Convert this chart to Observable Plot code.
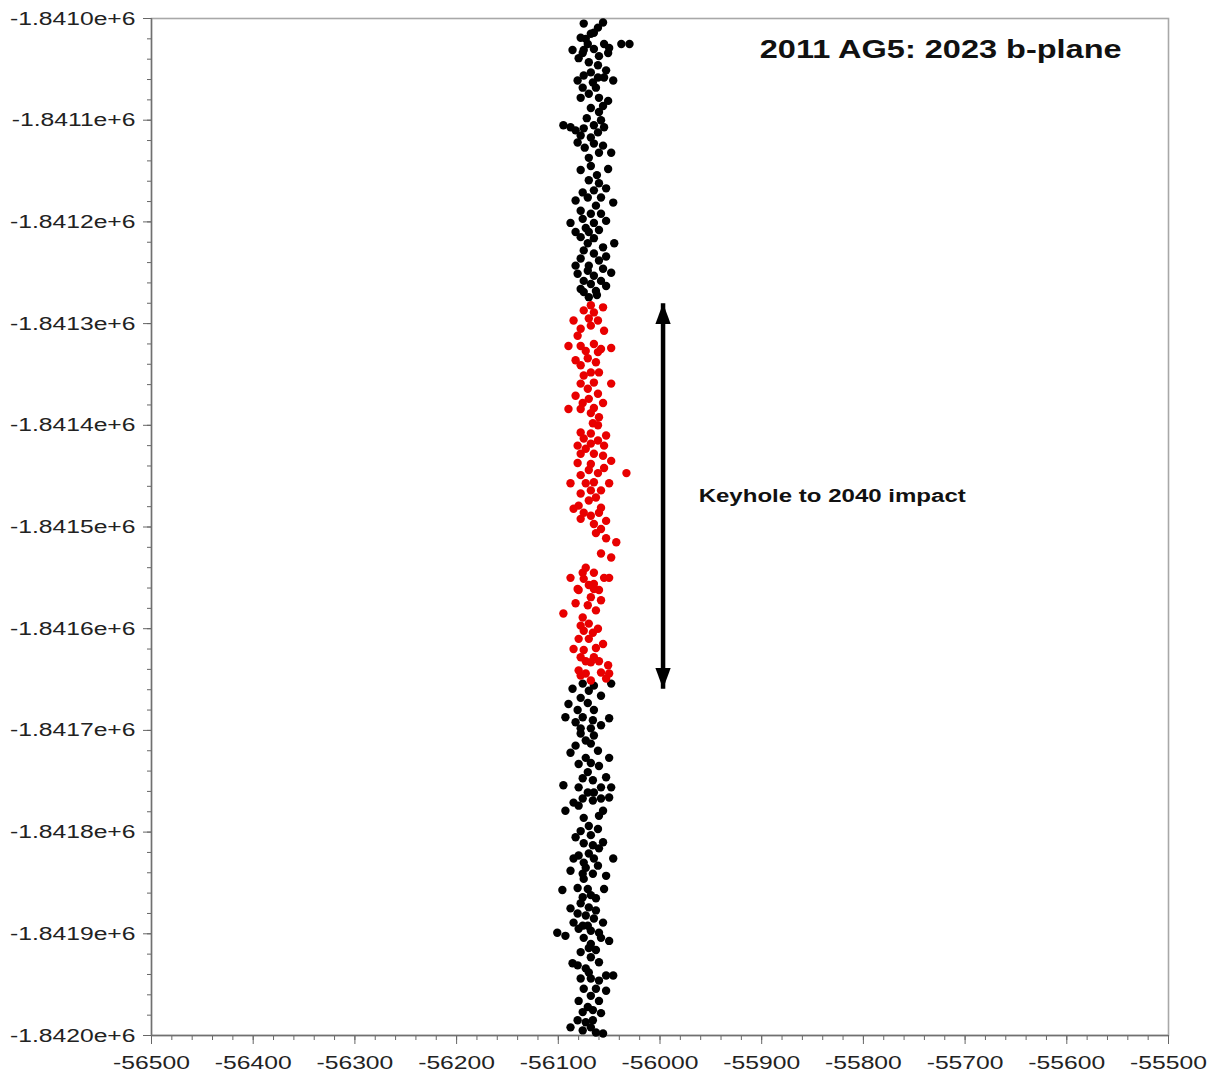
<!DOCTYPE html>
<html>
<head>
<meta charset="utf-8">
<script src="https://cdn.jsdelivr.net/npm/d3@7"></script>
<script src="https://cdn.jsdelivr.net/npm/@observablehq/plot@0.6"></script>
<style>
  html, body { margin: 0; padding: 0; background: #fff; }
  svg { display: block; }
</style>
</head>
<body>
<script>
const titleText = "2011 AG5: 2023 b-plane";
const annotationText = "Keyhole to 2040 impact";
const xDomain = [-56500, -55500];
const yDomain = [-1842000, -1841000];
const xMajorTicks = [-56500, -56400, -56300, -56200, -56100, -56000, -55900, -55800, -55700, -55600, -55500];
const yMajorTicks = [-1841000, -1841100, -1841200, -1841300, -1841400, -1841500, -1841600, -1841700, -1841800, -1841900, -1842000];
const yTickLabels = ["-1.8410e+6", "-1.8411e+6", "-1.8412e+6", "-1.8413e+6", "-1.8414e+6", "-1.8415e+6", "-1.8416e+6", "-1.8417e+6", "-1.8418e+6", "-1.8419e+6", "-1.8420e+6"];
const xMinorTicks = d3.range(-56500, -55499, 20);
const yMinorTicks = d3.range(-1842000, -1840999, 20);

// keyhole arrow (x, top, bottom)
const keyholeX = -55997;
const keyholeTop = -1841280;
const keyholeBottom = -1841659;
const annotationPos = [-55962, -1841470];
const titlePos = [-55724, -1841031];

const blackPoints = [
[-56075,-1841005],[-56056,-1841004],[-56061,-1841009],[-56068,-1841015],[-56065,-1841014],[-56078,-1841019],[-56071,-1841025],[-56055,-1841025],[-56050,-1841029],[-56086,-1841031],[-56075,-1841031],[-56065,-1841030],[-56051,-1841034],[-56076,-1841034],[-56038,-1841025],[-56030,-1841025],[-56070,-1841043],[-56061,-1841046],[-56068,-1841053],[-56081,-1841061],[-56061,-1841058],[-56055,-1841058],[-56046,-1841061],[-56076,-1841068],[-56063,-1841068],[-56070,-1841074],[-56060,-1841078],[-56051,-1841081],[-56068,-1841088],[-56056,-1841086],[-56095,-1841105],[-56088,-1841107],[-56083,-1841110],[-56075,-1841108],[-56065,-1841105],[-56058,-1841100],[-56055,-1841107],[-56078,-1841115],[-56068,-1841117],[-56081,-1841122],[-56065,-1841123],[-56056,-1841125],[-56048,-1841132],[-56070,-1841137],
[-56073,-1841020],[-56060,-1841037],[-56080,-1841039],[-56053,-1841051],[-56075,-1841056],[-56066,-1841063],[-56078,-1841078],[-56060,-1841092],[-56072,-1841098],[-56061,-1841112],[-56074,-1841127],[-56060,-1841132],
[-56068,-1841145],[-56051,-1841148],[-56070,-1841159],[-56060,-1841162],[-56053,-1841167],[-56065,-1841169],[-56083,-1841179],[-56071,-1841176],[-56046,-1841181],[-56063,-1841184],[-56078,-1841189],[-56068,-1841192],[-56058,-1841192],[-56076,-1841197],[-56065,-1841201],[-56073,-1841206],[-56083,-1841210],[-56070,-1841210],[-56060,-1841208],[-56078,-1841215],[-56065,-1841216],[-56071,-1841221],[-56045,-1841221],[-56056,-1841225],[-56075,-1841228],[-56065,-1841231],[-56078,-1841236],[-56060,-1841238],[-56070,-1841243],[-56056,-1841246],[-56081,-1841251],[-56065,-1841253],[-56048,-1841250],[-56075,-1841258],[-56068,-1841261],[-56053,-1841263],[-56078,-1841266],[-56063,-1841268],[-56070,-1841274],[-56062,-1841272],
[-56078,-1841149],[-56062,-1841154],[-56076,-1841171],[-56058,-1841176],[-56053,-1841199],[-56088,-1841201],[-56053,-1841234],[-56071,-1841248],[-56058,-1841258],[-56083,-1841243],[-56075,-1841269],
[-56076,-1841654],[-56065,-1841656],[-56048,-1841654],[-56086,-1841659],[-56070,-1841661],[-56078,-1841668],[-56090,-1841674],[-56071,-1841673],[-56081,-1841680],[-56065,-1841680],[-56093,-1841687],[-56076,-1841687],[-56066,-1841690],[-56050,-1841688],[-56078,-1841698],[-56068,-1841698],
[-56058,-1841666],[-56083,-1841692],[-56058,-1841695],
[-56078,-1841703],[-56065,-1841705],[-56083,-1841715],[-56068,-1841713],[-56061,-1841720],[-56050,-1841727],[-56080,-1841733],[-56068,-1841732],[-56060,-1841735],[-56071,-1841741],[-56076,-1841747],[-56066,-1841749],[-56095,-1841754],[-56080,-1841756],[-56071,-1841761],[-56065,-1841761],[-56058,-1841756],[-56048,-1841756],[-56085,-1841771],[-56076,-1841767],[-56058,-1841767],[-56050,-1841766],[-56080,-1841774],[-56093,-1841779],[-56056,-1841779],[-56075,-1841786],[-56060,-1841784],[-56061,-1841797],[-56083,-1841805],[-56068,-1841803],[-56075,-1841811],[-56056,-1841810],[-56066,-1841813],[-56080,-1841823],[-56070,-1841821],[-56085,-1841826],[-56075,-1841830],[-56065,-1841826],[-56046,-1841826],[-56076,-1841841],[-56066,-1841841],[-56053,-1841843],
[-56073,-1841710],[-56088,-1841722],[-56073,-1841727],[-56053,-1841746],[-56066,-1841769],[-56070,-1841794],[-56078,-1841799],[-56060,-1841816],[-56073,-1841835],[-56088,-1841838],[-56061,-1841833],
[-56075,-1841846],[-56096,-1841857],[-56081,-1841855],[-56071,-1841856],[-56055,-1841856],[-56076,-1841864],[-56068,-1841862],[-56078,-1841870],[-56070,-1841874],[-56081,-1841880],[-56073,-1841882],[-56065,-1841885],[-56085,-1841889],[-56056,-1841889],[-56076,-1841892],[-56101,-1841899],[-56093,-1841902],[-56080,-1841895],[-56068,-1841897],[-56060,-1841899],[-56075,-1841904],[-56058,-1841904],[-56050,-1841907],[-56068,-1841910],[-56070,-1841914],[-56068,-1841923],[-56086,-1841929],[-56081,-1841931],[-56073,-1841934],[-56070,-1841938],[-56053,-1841941],[-56046,-1841941],[-56068,-1841944],[-56060,-1841946],[-56075,-1841954],[-56053,-1841956],[-56068,-1841961],[-56071,-1841972],[-56066,-1841975],[-56058,-1841978],[-56081,-1841985],[-56073,-1841987],[-56088,-1841992],[-56068,-1841992],[-56076,-1841995],[-56063,-1841997],[-56056,-1841998],
[-56063,-1841865],[-56088,-1841875],[-56063,-1841877],[-56071,-1841892],[-56063,-1841916],[-56078,-1841918],[-56060,-1841928],[-56078,-1841944],[-56063,-1841954],[-56080,-1841966],[-56060,-1841966],[-56076,-1841977],[-56066,-1841985]
];

const redPoints = [
[-56075,-1841287],[-56056,-1841284],[-56065,-1841289],[-56085,-1841297],[-56070,-1841295],[-56061,-1841297],[-56078,-1841305],[-56068,-1841302],[-56055,-1841307],[-56090,-1841322],[-56078,-1841322],[-56065,-1841320],[-56048,-1841324],[-56073,-1841327],[-56058,-1841325],[-56083,-1841336],[-56071,-1841334],[-56063,-1841338],[-56075,-1841351],[-56068,-1841348],[-56078,-1841359],[-56065,-1841358],[-56048,-1841359],[-56071,-1841364],[-56061,-1841369],[-56076,-1841378],[-56056,-1841378],[-56090,-1841384],[-56078,-1841384],[-56065,-1841383],[-56068,-1841388],[-56060,-1841392],[-56066,-1841398],[-56078,-1841407],[-56068,-1841408],[-56053,-1841410],[-56075,-1841413],[-56061,-1841415],
[-56068,-1841282],[-56081,-1841312],[-56061,-1841328],[-56078,-1841341],[-56060,-1841348],[-56070,-1841374],[-56083,-1841371],[-56061,-1841400],
[-56081,-1841420],[-56068,-1841418],[-56055,-1841420],[-56078,-1841428],[-56065,-1841428],[-56056,-1841430],[-56081,-1841437],[-56068,-1841438],[-56048,-1841435],[-56055,-1841442],[-56078,-1841449],[-56061,-1841447],[-56033,-1841447],[-56088,-1841457],[-56073,-1841457],[-56065,-1841456],[-56050,-1841457],[-56078,-1841467],[-56068,-1841464],[-56063,-1841471],[-56085,-1841482],[-56075,-1841486],[-56058,-1841481],[-56078,-1841492],[-56060,-1841486],[-56065,-1841497],[-56058,-1841502],[-56063,-1841506],[-56053,-1841511],[-56043,-1841515],[-56058,-1841526],[-56048,-1841530],[-56073,-1841540],[-56076,-1841545],[-56065,-1841545],[-56088,-1841550],[-56075,-1841551],[-56055,-1841550],[-56050,-1841550],[-56065,-1841556],[-56081,-1841561],
[-56073,-1841423],[-56070,-1841444],[-56058,-1841464],[-56070,-1841474],[-56080,-1841479],[-56068,-1841489],[-56053,-1841494],
[-56080,-1841562],[-56065,-1841561],[-56068,-1841569],[-56058,-1841572],[-56083,-1841575],[-56071,-1841577],[-56095,-1841585],[-56063,-1841582],[-56076,-1841589],[-56070,-1841595],[-56075,-1841602],[-56066,-1841604],[-56080,-1841610],[-56070,-1841610],[-56056,-1841615],[-56085,-1841620],[-56075,-1841621],[-56063,-1841619],[-56078,-1841628],[-56065,-1841628],[-56068,-1841633],[-56051,-1841636],[-56080,-1841641],[-56073,-1841644],[-56058,-1841643],[-56050,-1841644],[-56068,-1841651],[-56078,-1841646],[-56053,-1841649],
[-56070,-1841557],[-56060,-1841562],[-56078,-1841597],[-56061,-1841600],[-56073,-1841632],[-56060,-1841632]
];

const black = blackPoints.map(([x, y]) => ({x, y}));
const red = redPoints.map(([x, y]) => ({x, y}));

// filled, narrow arrow head with its tip at the origin, pointing up
const arrowHead = {
  draw(context, size) {
    const s = Math.sqrt(size / Math.PI);
    context.moveTo(0, 0);
    context.lineTo(0.85 * s, 2.3 * s);
    context.lineTo(-0.85 * s, 2.3 * s);
    context.closePath();
  }
};

const yLabelOf = new Map(yMajorTicks.map((v, i) => [v, yTickLabels[i]]));

const svg = Plot.plot({
  width: 1210,
  height: 1078,
  marginLeft: 151,
  marginRight: 42,
  marginTop: 18,
  marginBottom: 43,
  style: {fontFamily: "'Liberation Sans', Arial, sans-serif", background: "#fff", color: "#222"},
  x: {domain: xDomain},
  y: {domain: yDomain},
  marks: [
    Plot.frame({stroke: "#a8a8a8", strokeWidth: 1.6}),
    Plot.axisX({ticks: xMinorTicks, tickSize: 5, tickFormat: () => "", label: null, stroke: "#666"}),
    Plot.axisX({ticks: xMajorTicks, tickSize: 9, tickPadding: 11, tickFormat: d => String(d), fontSize: 19, label: null, stroke: "#666", fill: "#222"}),
    Plot.axisY({ticks: yMinorTicks, tickSize: 4, tickFormat: () => "", label: null, stroke: "#666"}),
    Plot.axisY({ticks: yMajorTicks, tickSize: 8, tickPadding: 8, tickFormat: d => yLabelOf.get(d), fontSize: 19, label: null, stroke: "#666", fill: "#222"}),
    Plot.ruleX([xDomain[0]], {stroke: "#707070", strokeWidth: 1.4}),
    Plot.ruleY([yDomain[0]], {stroke: "#707070", strokeWidth: 1.4}),
    Plot.dot(black, {x: "x", y: "y", r: 4.2, fill: "#000", stroke: null}),
    Plot.dot(red, {x: "x", y: "y", r: 4.2, fill: "#e80000", stroke: null}),
    Plot.link([{x: keyholeX, y1: keyholeTop, y2: keyholeBottom}], {x1: "x", x2: "x", y1: "y1", y2: "y2", stroke: "#000", strokeWidth: 4.5}),
    Plot.dot([{x: keyholeX, y: keyholeTop, rot: 0}, {x: keyholeX, y: keyholeBottom, rot: 180}], {x: "x", y: "y", rotate: "rot", symbol: arrowHead, r: 9, fill: "#000", stroke: null}),
    Plot.text([annotationText], {x: () => annotationPos[0], y: () => annotationPos[1], text: d => d, textAnchor: "start", fontSize: 18.5, fontWeight: "bold", fill: "#111"}),
    Plot.text([titleText], {x: () => titlePos[0], y: () => titlePos[1], text: d => d, textAnchor: "middle", fontSize: 25, fontWeight: "bold", fill: "#111"})
  ]
});

document.body.append(svg);

// widen the lettering horizontally, as in the reference image
svg.querySelectorAll("text").forEach(t => {
  const tr = t.getAttribute("transform") || "";
  t.setAttribute("transform", (tr + " scale(1.3,1)").trim());
});
</script>
</body>
</html>
